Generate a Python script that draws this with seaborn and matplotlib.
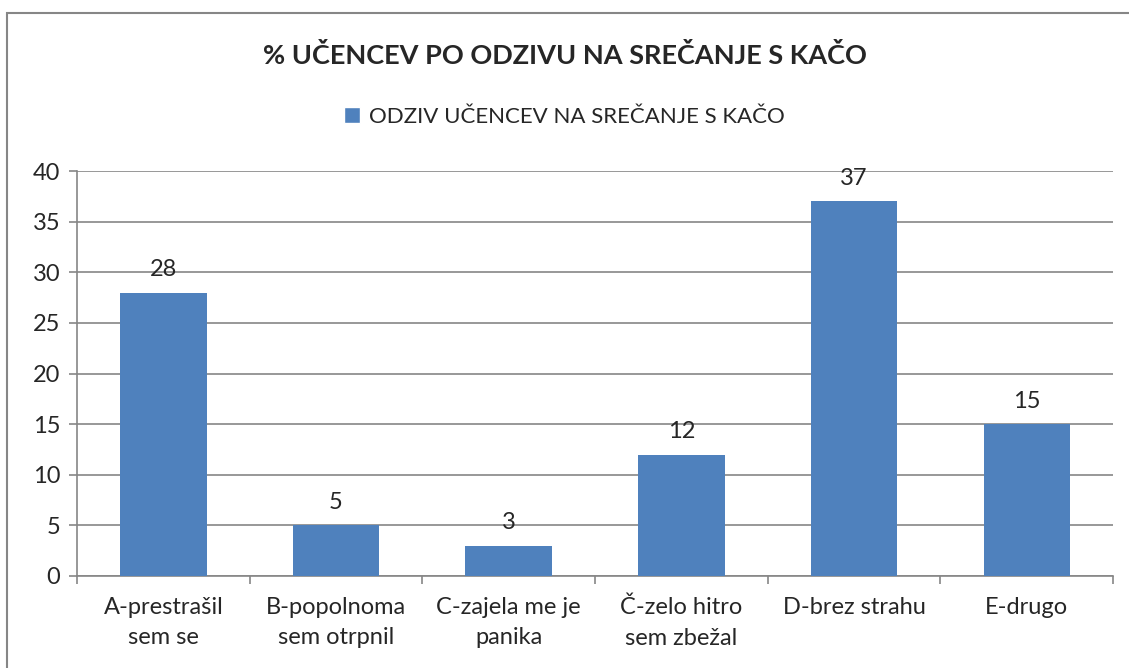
import matplotlib
matplotlib.use("Agg")
import matplotlib.pyplot as plt
from matplotlib.patches import Rectangle, Patch
import pandas as pd
import seaborn as sns

categories = [
    "A-prestrašil\nsem se",
    "B-popolnoma\nsem otrpnil",
    "C-zajela me je\npanika",
    "Č-zelo hitro\nsem zbežal",
    "D-brez strahu",
    "E-drugo",
]
values = [28, 5, 3, 12, 37, 15]
series_name = "ODZIV UČENCEV NA SREČANJE S KAČO"
title = "% UČENCEV PO ODZIVU NA SREČANJE S KAČO"
y_ticks = [0, 5, 10, 15, 20, 25, 30, 35, 40]

bar_color = "#4F81BD"
grid_color = "#868686"

sns.set_style("white")
plt.rcParams["font.family"] = ["Lato", "DejaVu Sans"]

df = pd.DataFrame({"kategorija": categories, "vrednost": values})

fig = plt.figure(figsize=(11.29, 6.68), dpi=100)
ax = fig.add_axes([77 / 1129, 1 - 576 / 668, (1113 - 77) / 1129, (576 - 171) / 668])

sns.barplot(data=df, x="kategorija", y="vrednost", color=bar_color,
            width=0.5, saturation=1, linewidth=0, ax=ax, zorder=3)

ax.set_ylim(0, 40)
ax.set_xlim(-0.5, len(categories) - 0.5)
ax.set_yticks(y_ticks)
ax.set_xticks([i - 0.5 for i in range(len(categories) + 1)], minor=True)
ax.set_xlabel("")
ax.set_ylabel("")

ax.yaxis.grid(True, color=grid_color, linewidth=1.2, zorder=0)
ax.set_axisbelow(True)
for side in ["top", "right"]:
    ax.spines[side].set_visible(False)
for side in ["left", "bottom"]:
    ax.spines[side].set_color(grid_color)
    ax.spines[side].set_linewidth(1.2)

ax.tick_params(axis="y", which="major", length=6, width=1.2, color=grid_color,
               labelsize=17, pad=6, left=True)
ax.tick_params(axis="x", which="major", length=0, labelsize=17, pad=15)
ax.tick_params(axis="x", which="minor", length=6, width=1.2, color=grid_color,
               bottom=True)
for lbl in ax.get_xticklabels():
    lbl.set_linespacing(1.55)

for i, v in enumerate(values):
    ax.annotate(str(v), (i, v), xytext=(0, 9), textcoords="offset points",
                ha="center", va="bottom", fontsize=17)

fig.text(0.5, 1 - 55 / 668, title, ha="center", va="center",
         fontsize=19.5, fontweight="bold")
fig.legend(handles=[Patch(facecolor=bar_color, label=series_name)],
           loc="center", bbox_to_anchor=(0.5, 1 - 117 / 668), frameon=False,
           fontsize=16, handlelength=0.7, handleheight=0.7, handletextpad=0.4)

fig.patches.append(Rectangle((7 / 1129, -0.1), 1.2, 0.1 + 1 - 13 / 668,
                             transform=fig.transFigure, fill=False,
                             edgecolor="#868686", linewidth=1.5))

fig.savefig("out.png", dpi=100)
